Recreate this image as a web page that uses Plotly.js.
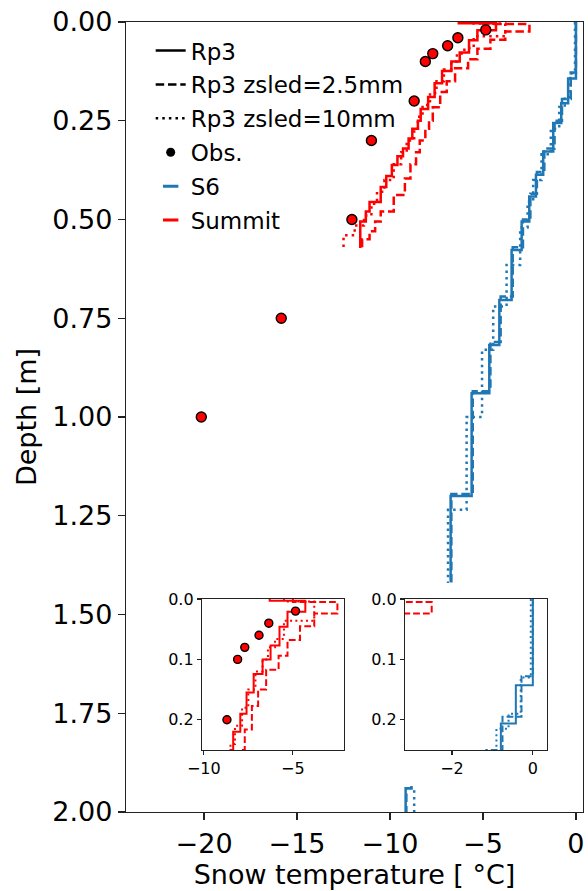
<!DOCTYPE html>
<html>
<head>
<meta charset="utf-8">
<script src="https://cdn.plot.ly/plotly-3.0.1.min.js"></script>
<style>html,body{margin:0;padding:0;background:#fff;}#plot{width:588px;height:891px;}</style>
</head>
<body>
<div id="plot"></div>
<script>
// ---------- data (depth of layer tops [m], layer temperature [°C]) ----------
// Summit, Rp3
const summitRp3Depth = [0, 0.003, 0.021, 0.046, 0.077, 0.10, 0.124, 0.155, 0.19, 0.22, 0.25, 0.27, 0.295, 0.32, 0.34, 0.362, 0.39, 0.418, 0.456, 0.48, 0.505];
const summitRp3Temp  = [-6.3, -4.3, -5.3, -5.75, -6.25, -6.7, -7.2, -7.6, -7.95, -8.35, -8.5, -8.8, -9.0, -9.3, -9.6, -9.9, -10.2, -10.5, -11.1, -11.3, -11.6];
const summitRp3End = 0.572;
// Summit, Rp3 zsled=2.5mm
const summitZ25Depth = [0, 0.005, 0.024, 0.045, 0.068, 0.094, 0.117, 0.15, 0.177, 0.216, 0.25, 0.27, 0.3, 0.33, 0.36, 0.396, 0.438, 0.48, 0.505, 0.53, 0.55];
const summitZ25Temp  = [-5.0, -2.5, -3.8, -4.6, -5.3, -5.8, -6.5, -6.95, -7.3, -7.7, -7.9, -8.1, -8.4, -8.6, -8.9, -9.2, -9.8, -10.5, -10.8, -11.1, -11.5];
const summitZ25End = 0.577;
// Summit, Rp3 zsled=10mm
const summitZ10Depth = [0, 0.004, 0.036, 0.066, 0.08, 0.1, 0.12, 0.15, 0.18, 0.21, 0.24, 0.27, 0.3, 0.33, 0.36, 0.4, 0.43, 0.46, 0.49, 0.515, 0.54];
const summitZ10Temp  = [-5.5, -3.8, -5.5, -6.0, -6.4, -6.7, -7.1, -7.5, -7.85, -8.25, -8.5, -8.7, -9.1, -9.4, -9.8, -10.3, -10.7, -11.0, -11.4, -11.9, -12.5];
const summitZ10End = 0.57;

// S6, Rp3
const s6Rp3Depth = [0, 0.143, 0.206, 0.256, 0.328, 0.387, 0.442, 0.505, 0.577, 0.704, 0.818, 0.94, 1.2];
const s6Rp3Temp  = [0.0, -0.42, -0.79, -1.22, -1.76, -2.15, -2.51, -2.92, -3.46, -4.12, -4.66, -5.61, -6.74];
const s6Rp3End = 1.417;
const s6Rp3BottomDepth = [1.935, 1.94];
const s6Rp3BottomTemp  = [-8.85, -9.16];
// S6, Rp3 zsled=2.5mm
const s6Z25Depth = [0, 0.128, 0.195, 0.25, 0.32, 0.38, 0.435, 0.5, 0.57, 0.695, 0.81, 0.935, 1.195];
const s6Z25Temp  = [0.0, -0.28, -0.75, -1.15, -1.7, -2.1, -2.45, -2.85, -3.4, -4.05, -4.6, -5.55, -6.7];
const s6Z25End = 1.42;
const s6Z25BottomDepth = [1.935, 1.94];
const s6Z25BottomTemp  = [-8.85, -9.12];
// S6, Rp3 zsled=10mm
const s6Z10Depth = [0, 0.13, 0.19, 0.215, 0.27, 0.335, 0.40, 0.455, 0.52, 0.615, 0.72, 0.83, 1.0, 1.235];
const s6Z10Temp  = [-0.05, -0.3, -0.6, -0.9, -1.35, -1.85, -2.3, -2.6, -3.0, -3.73, -4.45, -5.05, -5.88, -6.88];
const s6Z10End = 1.42;
const s6Z10BottomDepth = [1.945];
const s6Z10BottomTemp  = [-8.7];
const profilesBottom = 2.0;

// Observations (Summit)
const obsDepth = [0.02, 0.04, 0.06, 0.08, 0.10, 0.20, 0.30, 0.50, 0.75, 1.00];
const obsTemp  = [-4.85, -6.35, -6.9, -7.7, -8.1, -8.7, -11.0, -12.05, -15.85, -20.15];

// tick labels
const mainXTicks = [-20, -15, -10, -5, 0];
const mainYTicks = [0, 0.25, 0.5, 0.75, 1.0, 1.25, 1.5, 1.75, 2.0];
const inset1XTicks = [-10, -5];
const inset2XTicks = [-2, 0];
const insetYTicks = [0, 0.1, 0.2];

const legendNames = ['Rp3', 'Rp3 zsled=2.5mm', 'Rp3 zsled=10mm', 'Obs.', 'S6', 'Summit'];

// ---------- build ----------
const BLUE = '#1f77b4', RED = '#ff0000';
function steps(depth, temp, end, botDepth, botTemp) {
  let x = temp.concat([temp[temp.length - 1]]);
  let y = depth.concat([end]);
  if (botDepth) {
    x = x.concat([null], botTemp, [botTemp[botTemp.length - 1]]);
    y = y.concat([null], botDepth, [profilesBottom]);
  }
  return {x, y};
}
const profiles = [
  {d: steps(summitRp3Depth, summitRp3Temp, summitRp3End), c: RED, s: 'solid'},
  {d: steps(summitZ25Depth, summitZ25Temp, summitZ25End), c: RED, s: 'dash'},
  {d: steps(summitZ10Depth, summitZ10Temp, summitZ10End), c: RED, s: 'dot'},
  {d: steps(s6Rp3Depth, s6Rp3Temp, s6Rp3End, s6Rp3BottomDepth, s6Rp3BottomTemp), c: BLUE, s: 'solid'},
  {d: steps(s6Z25Depth, s6Z25Temp, s6Z25End, s6Z25BottomDepth, s6Z25BottomTemp), c: BLUE, s: 'dash'},
  {d: steps(s6Z10Depth, s6Z10Temp, s6Z10End, s6Z10BottomDepth, s6Z10BottomTemp), c: BLUE, s: 'dot'},
];
function dashFor(style, w) {
  if (style === 'dash') return (3.4 * w).toFixed(1) + 'px,' + (1.5 * w).toFixed(1) + 'px';
  if (style === 'dot') return (1.0 * w).toFixed(1) + 'px,' + (1.65 * w).toFixed(1) + 'px';
  return 'solid';
}
const traces = [];
const axesSets = [
  {xa: 'x', ya: 'y', w: 2.5, ms: 10},
  {xa: 'x2', ya: 'y2', w: 2, ms: 8},
  {xa: 'x3', ya: 'y3', w: 2, ms: 8},
];
axesSets.forEach(a => {
  profiles.forEach(p => {
    traces.push({type: 'scatter', mode: 'lines', x: p.d.x, y: p.d.y, xaxis: a.xa, yaxis: a.ya,
      line: {color: p.c, width: a.w, shape: 'vh', dash: dashFor(p.s, a.w)},
      connectgaps: false, showlegend: false, hoverinfo: 'skip'});
  });
  traces.push({type: 'scatter', mode: 'markers', x: obsTemp, y: obsDepth, xaxis: a.xa, yaxis: a.ya,
    marker: {color: RED, size: a.ms, line: {color: '#000', width: 1.4}}, showlegend: false, hoverinfo: 'skip'});
});
// legend entries
const legStyles = ['solid', 'dash', 'dot'];
legStyles.forEach((s, i) => {
  traces.push({type: 'scatter', mode: 'lines', x: [null], y: [null], name: legendNames[i], legendgroup: 'g' + i,
    line: {color: '#000', width: 2.5, dash: dashFor(s, 2.5)}});
});
traces.push({type: 'scatter', mode: 'markers', x: [null], y: [null], name: legendNames[3], legendgroup: 'g3',
  marker: {color: '#000', size: 9}});
traces.push({type: 'scatter', mode: 'markers', x: [null], y: [null], name: legendNames[4], legendgroup: 'g4',
  marker: {symbol: 'line-ew', size: 11, line: {color: BLUE, width: 3}}});
traces.push({type: 'scatter', mode: 'markers', x: [null], y: [null], name: legendNames[5], legendgroup: 'g5',
  marker: {symbol: 'line-ew', size: 11, line: {color: RED, width: 3}}});

const FONT = 'DejaVu Sans, sans-serif';
const axCommon = {showline: true, mirror: true, linecolor: '#222', linewidth: 1.2, ticks: 'outside',
  tickcolor: '#222', tickwidth: 1.2, showgrid: false, zeroline: false, fixedrange: true};
const layout = {
  width: 588, height: 891,
  margin: {l: 126, r: 5, t: 22, b: 79},
  paper_bgcolor: '#fff', plot_bgcolor: '#fff',
  font: {family: FONT, color: '#000'},
  showlegend: true,
  legend: {x: 0.054, y: 0.991, xanchor: 'left', yanchor: 'top', bgcolor: 'rgba(0,0,0,0)',
    font: {size: 23, family: FONT}, traceorder: 'grouped', tracegroupgap: 1},
  xaxis: Object.assign({}, axCommon, {domain: [0, 1], range: [-24.2, 0.38], tickvals: mainXTicks,
    ticklen: 7, tickfont: {size: 27}, title: {text: 'Snow temperature [ °C]', font: {size: 27}, standoff: 6}}),
  yaxis: Object.assign({}, axCommon, {domain: [0, 1], range: [2, 0], tickvals: mainYTicks, tickformat: '.2f',
    ticklen: 7, tickfont: {size: 27}, title: {text: 'Depth [m]', font: {size: 27}, standoff: 7}}),
  xaxis2: Object.assign({}, axCommon, {domain: [0.1663, 0.477], anchor: 'y2', range: [-10.1, -2.13],
    tickvals: inset1XTicks, ticklen: 4, tickfont: {size: 16}}),
  yaxis2: Object.assign({}, axCommon, {domain: [0.0785, 0.2696], anchor: 'x2', range: [0.25, 0],
    tickvals: insetYTicks, tickformat: '.1f', ticklen: 4, tickfont: {size: 16}}),
  xaxis3: Object.assign({}, axCommon, {domain: [0.6105, 0.9212], anchor: 'y3', range: [-3.16, 0.35],
    tickvals: inset2XTicks, ticklen: 4, tickfont: {size: 16}}),
  yaxis3: Object.assign({}, axCommon, {domain: [0.0785, 0.2696], anchor: 'x3', range: [0.25, 0],
    tickvals: insetYTicks, tickformat: '.1f', ticklen: 4, tickfont: {size: 16}}),
};
Plotly.newPlot('plot', traces, layout, {staticPlot: true, displayModeBar: false});
</script>
</body>
</html>
